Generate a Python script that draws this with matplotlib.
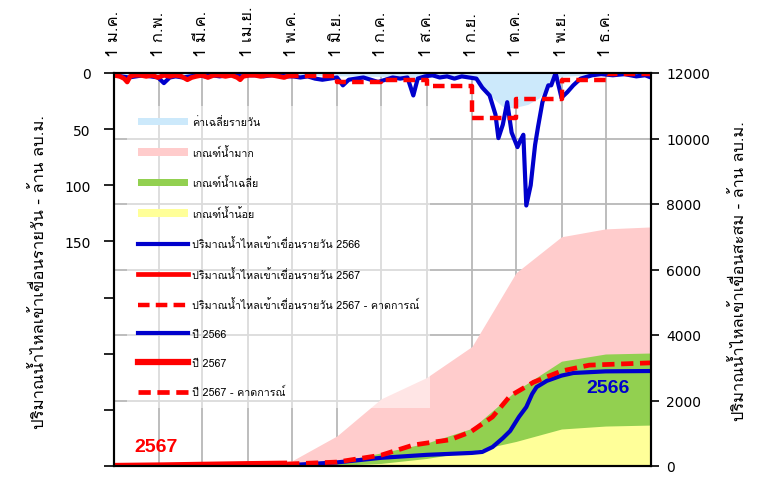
import matplotlib
matplotlib.use('Agg')
import matplotlib.pyplot as plt
from matplotlib import font_manager
from matplotlib.ft2font import FT2Font
from matplotlib.patches import Patch
from matplotlib.lines import Line2D

# pick an installed font that has Thai glyphs
thai = None
for f in font_manager.fontManager.ttflist:
    try:
        if FT2Font(f.fname).get_char_index(0x0E01):
            thai = f.name
            break
    except Exception:
        pass
plt.rcParams['font.family'] = ([thai] if thai else []) + ['DejaVu Sans']

# ---- data ----
month_start = [0, 31, 60, 91, 121, 152, 182, 213, 244, 274, 305, 335]
month_labels = ['1 ม.ค.', '1 ก.พ.', '1 มี.ค.', '1 เม.ย.', '1 พ.ค.', '1 มิ.ย.',
                '1 ก.ค.', '1 ส.ค.', '1 ก.ย.', '1 ต.ค.', '1 พ.ย.', '1 ธ.ค.']

# daily inflow (left axis, million m3)
avg_day = [0, 121, 182, 213, 244, 250, 258, 265, 272, 282, 290, 297, 305, 320, 335, 366]
avg_val = [1, 2, 3, 4, 4, 10, 22, 30, 31, 28, 22, 8, 3, 2, 1, 1]

d66_day = [0, 5, 10, 15, 20, 25, 30, 34, 38, 42, 47, 52, 57, 62, 67, 72, 77, 82, 87, 92,
           97, 102, 107, 112, 117, 122, 127, 132, 137, 142, 147, 152, 156, 160, 165, 170,
           175, 180, 185, 190, 195, 200, 204, 207, 212, 217, 222, 227, 232, 237, 242, 247,
           251, 256, 260, 262, 265, 268, 271, 275, 277, 279, 281, 284, 287, 289, 292, 296,
           298, 301, 303, 305, 309, 313, 318, 326, 332, 340, 348, 356, 362, 366]
d66_val = [2, 3, 4, 3, 2, 3, 4, 9, 4, 3, 4, 3, 2, 3, 2, 3, 2, 2, 3, 2,
           2, 3, 2, 2, 3, 3, 4, 3, 5, 6, 5, 4, 11, 6, 5, 4,
           6, 8, 6, 4, 5, 4, 20, 5, 3, 2, 4, 3, 5, 3, 4, 5,
           13, 20, 37, 58, 46, 26, 53, 66, 60, 55, 118, 100, 64, 48, 26, 11,
           11, 0, 11, 22, 17, 11, 5, 2, 1, 2, 1, 3, 2, 4]

d67_day = [0, 4, 7, 9, 11, 14, 18, 22, 26, 30, 34, 38, 42, 46, 50, 53, 56, 60, 64, 68,
           72, 76, 80, 84, 86, 88, 92, 96, 100, 104, 108, 112, 116, 118]
d67_val = [2, 3, 5, 8, 3, 2, 2, 3, 2, 4, 2, 3, 2, 3, 6, 4, 3, 2, 4, 2,
           2, 3, 2, 4, 6, 3, 2, 2, 3, 2, 2, 3, 4, 3]

fc_day = [118, 152, 182, 213, 244, 274, 305, 335, 366]
fc_val = [3, 8, 6.5, 12, 40, 23, 6, 1, 1]

# accumulated inflow (right axis, million m3)
high_day = [0, 91, 121, 152, 182, 213, 244, 274, 305, 335, 366]
high_val = [0, 30, 150, 920, 2050, 2700, 3650, 5900, 7000, 7240, 7300]
mid_day = [0, 121, 152, 182, 213, 244, 274, 305, 335, 366]
mid_val = [0, 20, 120, 400, 700, 1150, 2300, 3200, 3420, 3450]
low_day = [0, 152, 182, 213, 244, 274, 305, 335, 366]
low_val = [0, 20, 80, 230, 450, 750, 1130, 1220, 1250]

c66_day = [0, 60, 121, 152, 182, 213, 244, 251, 258, 265, 270, 276, 281, 285, 288, 295,
           305, 313, 335, 366]
c66_val = [0, 10, 30, 110, 250, 340, 400, 430, 580, 850, 1070, 1500, 1800, 2200, 2410,
           2600, 2760, 2840, 2890, 2900]
c67_day = [0, 31, 60, 91, 118]
c67_val = [0, 15, 35, 55, 70]
cfc_day = [118, 152, 182, 204, 213, 229, 243, 258, 270, 286, 305, 324, 366]
cfc_val = [60, 120, 330, 640, 700, 800, 1040, 1500, 2140, 2560, 2900, 3080, 3150]

blue = '#0000cc'
red = '#ff0000'
c_avg = '#cce9fb'
c_high = '#ffcccc'
c_mid = '#92d050'
c_low = '#ffff99'

fig = plt.figure(figsize=(7.74, 4.89), dpi=100)
ax = fig.add_axes([114 / 774, 1 - 467 / 489, 537 / 774, 393 / 489])
axd = ax.twinx()

# accumulated (bottom layer, right axis)
ax.fill_between(high_day, 0, high_val, color=c_high, lw=0)
ax.fill_between(mid_day, 0, mid_val, color=c_mid, lw=0)
ax.fill_between(low_day, 0, low_val, color=c_low, lw=0)
ax.plot(c66_day, c66_val, color=blue, lw=3)
ax.plot(cfc_day, cfc_val, color=red, lw=3.4, dashes=(2.6, 1.4))
ax.plot(c67_day, c67_val, color=red, lw=4.5, solid_capstyle='butt')
ax.text(29, 610, '2567', color=red, fontsize=14, fontweight='bold',
        family='Liberation Sans', ha='center', va='center')
ax.text(337, 2410, '2566', color=blue, fontsize=14, fontweight='bold',
        family='Liberation Sans', ha='center', va='center')

ax.set_xlim(0, 366)
ax.set_ylim(0, 12000)
ax.set_yticks(range(0, 12001, 2000))
ax.yaxis.tick_right()
ax.set_xticks(month_start)
ax.set_xticklabels(month_labels, rotation=90)
ax.xaxis.tick_top()
ax.tick_params(axis='x', length=0, pad=12.5, labelsize=12)
ax.tick_params(axis='y', length=6, width=1.2, labelsize=10, pad=5)
for lab in ax.get_yticklabels():
    lab.set_family('DejaVu Sans')
ax.grid(True, color='#b8b8b8', lw=1.3)
ax.set_axisbelow(True)

# daily (top layer, left axis)
axd.fill_between(avg_day, 0, avg_val, color=c_avg, lw=0)
axd.plot(d66_day, d66_val, color=blue, lw=3)
axd.plot(d67_day, d67_val, color=red, lw=3.4)
axd.plot(fc_day, fc_val, color=red, lw=3.2, dashes=(2.6, 1.4), drawstyle='steps-post')
axd.set_ylim(350, 0)
axd.set_yticks(range(0, 351, 50))
axd.set_yticklabels(['0', '50', '100', '150', '', '', '', ''], family='DejaVu Sans')
axd.yaxis.tick_left()
axd.tick_params(axis='y', length=7, width=1.2, labelsize=10, pad=10)
ax.yaxis.tick_right()

for a in (ax, axd):
    for s in a.spines.values():
        s.set_linewidth(1.5)
        s.set_color('black')

fig.text(40 / 774, 1 - 272 / 489, 'ปริมาณน้ำไหลเข้าเขื่อนรายวัน - ล้าน ลบ.ม.',
         rotation=90, ha='center', va='center', fontsize=12)
fig.text(740 / 774, 1 - 271 / 489, 'ปริมาณน้ำไหลเข้าเขื่อนสะสม - ล้าน ลบ.ม.',
         rotation=90, ha='center', va='center', fontsize=11.8)

handles = [
    Patch(facecolor=c_avg, edgecolor='none'),
    Patch(facecolor=c_high, edgecolor='none'),
    Patch(facecolor=c_mid, edgecolor='none'),
    Patch(facecolor=c_low, edgecolor='none'),
    Line2D([], [], color=blue, lw=3),
    Line2D([], [], color=red, lw=3.4),
    Line2D([], [], color=red, lw=3.2, dashes=(2.6, 1.4)),
    Line2D([], [], color=blue, lw=3),
    Line2D([], [], color=red, lw=4.5),
    Line2D([], [], color=red, lw=3.4, dashes=(2.6, 1.4)),
]
labels = ['ค่าเฉลี่ยรายวัน', 'เกณฑ์น้ำมาก', 'เกณฑ์น้ำเฉลี่ย', 'เกณฑ์น้ำน้อย',
          'ปริมาณน้ำไหลเข้าเขื่อนรายวัน 2566', 'ปริมาณน้ำไหลเข้าเขื่อนรายวัน 2567',
          'ปริมาณน้ำไหลเข้าเขื่อนรายวัน 2567 - คาดการณ์',
          'ปี 2566', 'ปี 2567', 'ปี 2567 - คาดการณ์']
leg = axd.legend(handles, labels, loc='lower left', bbox_to_anchor=(0.024, 0.1476),
                 fontsize=7.7, handlelength=4.7, handletextpad=0.38, labelspacing=1.74,
                 borderpad=1.0, borderaxespad=0, fancybox=False, framealpha=0.5,
                 edgecolor='none')

fig.savefig('out.png', dpi=100)
